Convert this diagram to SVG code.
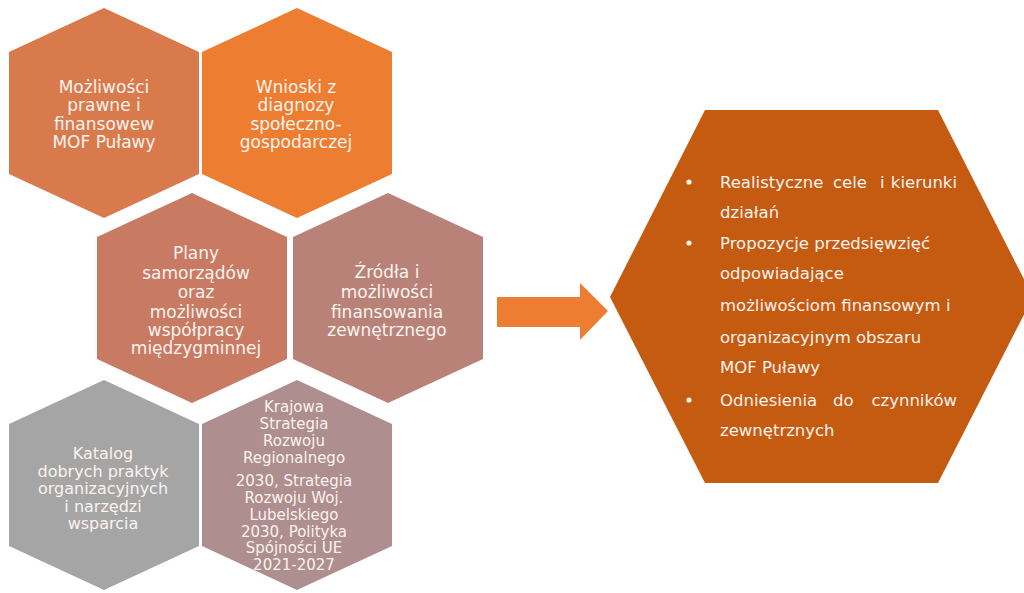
<svg xmlns="http://www.w3.org/2000/svg" width="1024" height="593" viewBox="0 0 1024 593">
<style>
.t{font-family:"DejaVu Sans","Liberation Sans",sans-serif;font-size:17px;fill:#FBF3EE;text-anchor:middle}
.k{font-size:16px}
.s{font-size:15px}
.b{font-family:"DejaVu Sans","Liberation Sans",sans-serif;font-size:16.5px;fill:#FBF3EE}
</style>
<rect width="1024" height="593" fill="#FFFFFF"/>
<g id="hex1">
<polygon points="104,8 199,52 199,174 104,218 9,174 9,52" fill="#D97A4C"/>
<text class="t"><tspan x="104" y="93">Możliwości</tspan><tspan x="104" y="111">prawne i</tspan><tspan x="104" y="130">finansowew</tspan><tspan x="104" y="148">MOF Puławy</tspan></text>
</g>
<g id="hex2">
<polygon points="297,8 392,52 392,174 297,218 202,174 202,52" fill="#ED7D31"/>
<text class="t"><tspan x="296" y="93">Wnioski z</tspan><tspan x="296" y="111">diagnozy</tspan><tspan x="296" y="130">społeczno-</tspan><tspan x="296" y="148">gospodarczej</tspan></text>
</g>
<g id="hex3">
<polygon points="192,193 287,237 287,359 192,403 97,359 97,237" fill="#C87A63"/>
<text class="t"><tspan x="196" y="259">Plany</tspan><tspan x="196" y="279">samorządów</tspan><tspan x="196" y="298">oraz</tspan><tspan x="196" y="318">możliwości</tspan><tspan x="196" y="336">współpracy</tspan><tspan x="196" y="354">międzygminnej</tspan></text>
</g>
<g id="hex4">
<polygon points="388,193 483,237 483,359 388,403 293,359 293,237" fill="#B98278"/>
<text class="t"><tspan x="387" y="278">Źródła i</tspan><tspan x="387" y="298">możliwości</tspan><tspan x="387" y="318">finansowania</tspan><tspan x="387" y="336">zewnętrznego</tspan></text>
</g>
<g id="hex5">
<polygon points="104,380 199,424 199,546 104,590 9,546 9,424" fill="#A5A5A5"/>
<text class="t k"><tspan x="103" y="459">Katalog</tspan><tspan x="103" y="477">dobrych praktyk</tspan><tspan x="103" y="494">organizacyjnych</tspan><tspan x="103" y="512">i narzędzi</tspan><tspan x="103" y="529">wsparcia</tspan></text>
</g>
<g id="hex6">
<polygon points="297,380 392,424 392,546 297,590 202,546 202,424" fill="#AE8E8E"/>
<text class="t s"><tspan x="294" y="412">Krajowa</tspan><tspan x="294" y="429">Strategia</tspan><tspan x="294" y="446">Rozwoju</tspan><tspan x="294" y="463">Regionalnego</tspan><tspan x="294" y="486">2030, Strategia</tspan><tspan x="294" y="503">Rozwoju Woj.</tspan><tspan x="294" y="520">Lubelskiego</tspan><tspan x="294" y="537">2030, Polityka</tspan><tspan x="294" y="553">Spójności UE</tspan><tspan x="294" y="570">2021-2027</tspan></text>
</g>
<g id="connectors">
<polygon points="497,297 580,297 580,283 608,311 580,340 580,327 497,327" fill="#ED7D31"/>
</g>
<g id="result">
<polygon points="610,297 705,110 938,110 1033,297 938,483 705,483" fill="#C55A11"/>
<circle cx="689" cy="182" r="2.6" fill="#FBF3EE"/>
<circle cx="689" cy="243" r="2.6" fill="#FBF3EE"/>
<circle cx="689" cy="400" r="2.6" fill="#FBF3EE"/>
<text class="b"><tspan x="720" y="188">Realistyczne</tspan><tspan x="833" y="188">cele</tspan><tspan x="880" y="188">i</tspan><tspan x="957" y="188" text-anchor="end">kierunki</tspan></text>
<text class="b" x="720" y="218">działań</text>
<text class="b" x="720" y="249">Propozycje przedsięwzięć</text>
<text class="b" x="720" y="279">odpowiadające</text>
<text class="b" x="720" y="311">możliwościom finansowym i</text>
<text class="b" x="720" y="343">organizacyjnym obszaru</text>
<text class="b" x="720" y="373">MOF Puławy</text>
<text class="b"><tspan x="720" y="406">Odniesienia</tspan><tspan x="833" y="406">do</tspan><tspan x="957" y="406" text-anchor="end">czynników</tspan></text>
<text class="b" x="720" y="436">zewnętrznych</text>
</g>
</svg>
